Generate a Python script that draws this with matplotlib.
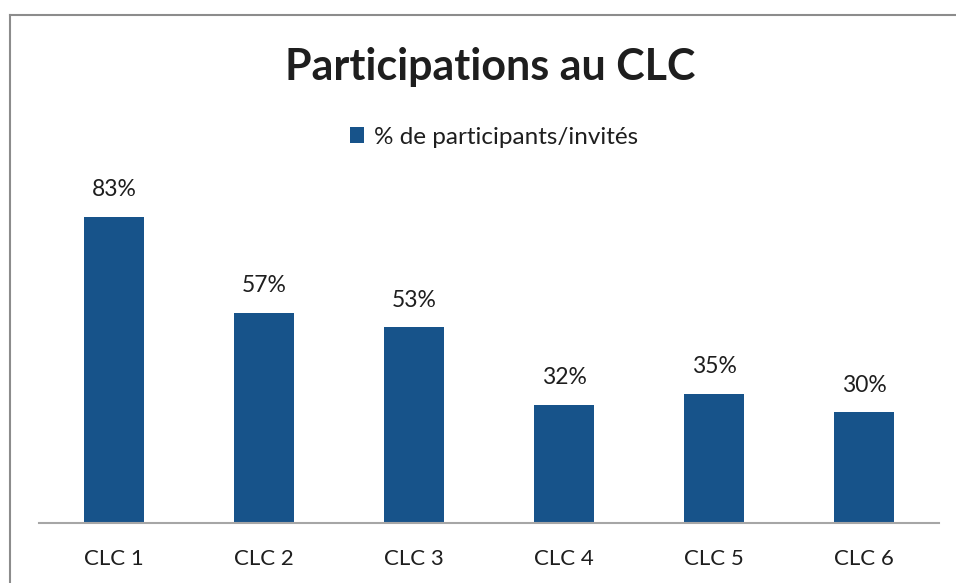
import matplotlib
matplotlib.use("Agg")
import matplotlib.pyplot as plt
from matplotlib.lines import Line2D
from matplotlib.patches import Patch

categories = ["CLC 1", "CLC 2", "CLC 3", "CLC 4", "CLC 5", "CLC 6"]
values = [83, 57, 53, 32, 35, 30]
labels = ["83%", "57%", "53%", "32%", "35%", "30%"]
series_name = "% de participants/invités"
title = "Participations au CLC"

plt.rcParams['font.family'] = ['Lato', 'DejaVu Sans']
W, H = 956, 583
fig = plt.figure(figsize=(W / 100, H / 100), dpi=100)
fig.patch.set_facecolor('white')

bar_color = '#17538A'
text_color = '#1e1e1e'

ax = fig.add_axes([39 / W, 60 / H, 900 / W, 369 / H])
x = list(range(len(categories)))
ax.bar(x, values, width=0.4, color=bar_color, zorder=2)
ax.set_xlim(-0.5, len(categories) - 0.5)
ax.set_ylim(0, 100)
for xi, v, lab in zip(x, values, labels):
    ax.annotate(lab, (xi, v), xytext=(0, 12), textcoords='offset points',
                ha='center', va='bottom', fontsize=16.5, color=text_color)
ax.set_xticks(x)
ax.set_xticklabels(categories, fontsize=16, color=text_color)
ax.tick_params(axis='x', length=0, pad=19)
ax.set_yticks([])
for s in ['top', 'right', 'left']:
    ax.spines[s].set_visible(False)
ax.spines['bottom'].set_color('#a6a6a6')
ax.spines['bottom'].set_linewidth(1.5)
ax.spines['bottom'].set_zorder(3)

fig.text(490 / W, 1 - 67 / H, title, ha='center', va='center',
         fontsize=31, fontweight='bold', color=text_color)

handle = Patch(facecolor=bar_color, edgecolor='none')
fig.legend([handle], [series_name], loc='center', bbox_to_anchor=(494 / W, 1 - 137 / H),
           frameon=False, fontsize=17.5, handlelength=0.6, handleheight=0.6,
           handletextpad=0.4, labelcolor=text_color)

# border (cropped chart frame: left and top edges visible)
fig.add_artist(Line2D([10 / W, 10 / W], [0, 1 - 15 / H], transform=fig.transFigure,
                      color='#8c8c8c', linewidth=1.5))
fig.add_artist(Line2D([10 / W, 1], [1 - 15 / H, 1 - 15 / H], transform=fig.transFigure,
                      color='#8c8c8c', linewidth=1.5))

fig.savefig('out.png', dpi=100, facecolor='white')
